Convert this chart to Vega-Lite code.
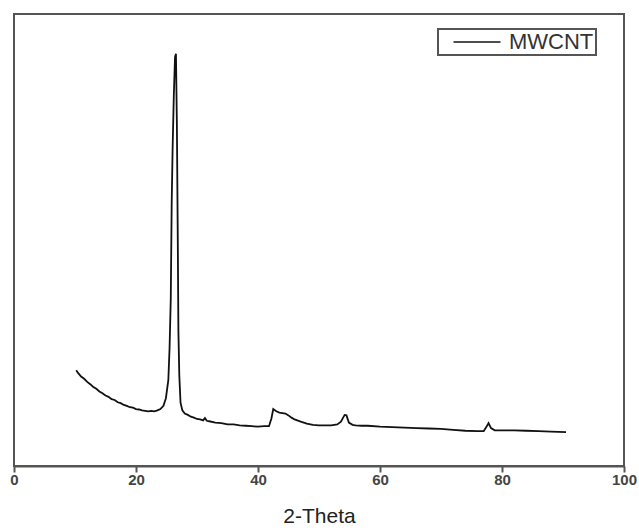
{
  "$schema": "https://vega.github.io/schema/vega-lite/v6.json",
  "width": 610,
  "height": 452,
  "padding": {"left": 9, "top": 14, "right": 16, "bottom": 0},
  "autosize": {"type": "pad"},
  "background": "white",
  "config": {
    "view": {"stroke": "#555", "strokeWidth": 2},
    "font": "Liberation Sans"
  },
  "data": {
    "values": [
      {"theta": 10.2, "intensity": 212}, {"theta": 10.5, "intensity": 206}, {"theta": 11, "intensity": 198},
      {"theta": 11.5, "intensity": 193}, {"theta": 12, "intensity": 186}, {"theta": 12.5, "intensity": 181},
      {"theta": 13, "intensity": 175}, {"theta": 13.5, "intensity": 171}, {"theta": 14, "intensity": 165},
      {"theta": 14.5, "intensity": 161}, {"theta": 15, "intensity": 156}, {"theta": 15.5, "intensity": 153},
      {"theta": 16, "intensity": 148}, {"theta": 16.5, "intensity": 146}, {"theta": 17, "intensity": 141},
      {"theta": 17.5, "intensity": 139}, {"theta": 18, "intensity": 135}, {"theta": 18.5, "intensity": 133},
      {"theta": 19, "intensity": 130}, {"theta": 19.5, "intensity": 129}, {"theta": 20, "intensity": 126},
      {"theta": 20.5, "intensity": 125}, {"theta": 21, "intensity": 123}, {"theta": 21.5, "intensity": 122},
      {"theta": 22, "intensity": 121}, {"theta": 22.5, "intensity": 122}, {"theta": 23, "intensity": 121},
      {"theta": 23.5, "intensity": 123}, {"theta": 24, "intensity": 126}, {"theta": 24.5, "intensity": 133},
      {"theta": 24.9, "intensity": 150}, {"theta": 25.1, "intensity": 170}, {"theta": 25.3, "intensity": 190},
      {"theta": 25.5, "intensity": 260}, {"theta": 25.7, "intensity": 370}, {"theta": 25.85, "intensity": 580},
      {"theta": 26.0, "intensity": 700}, {"theta": 26.2, "intensity": 820}, {"theta": 26.4, "intensity": 905},
      {"theta": 26.55, "intensity": 912}, {"theta": 26.7, "intensity": 760}, {"theta": 26.85, "intensity": 500},
      {"theta": 26.95, "intensity": 300}, {"theta": 27.1, "intensity": 200}, {"theta": 27.3, "intensity": 140},
      {"theta": 27.6, "intensity": 123}, {"theta": 28, "intensity": 116}, {"theta": 28.5, "intensity": 113},
      {"theta": 29, "intensity": 109}, {"theta": 29.5, "intensity": 107}, {"theta": 30, "intensity": 104},
      {"theta": 30.5, "intensity": 103}, {"theta": 31, "intensity": 101}, {"theta": 31.3, "intensity": 106},
      {"theta": 31.6, "intensity": 100}, {"theta": 32, "intensity": 99}, {"theta": 33, "intensity": 96},
      {"theta": 34, "intensity": 95}, {"theta": 35, "intensity": 92}, {"theta": 36, "intensity": 92},
      {"theta": 37, "intensity": 90}, {"theta": 38, "intensity": 89}, {"theta": 39, "intensity": 88},
      {"theta": 40, "intensity": 87}, {"theta": 41, "intensity": 88}, {"theta": 41.8, "intensity": 88},
      {"theta": 42.2, "intensity": 105}, {"theta": 42.5, "intensity": 126}, {"theta": 43, "intensity": 121},
      {"theta": 43.5, "intensity": 118}, {"theta": 44, "intensity": 117}, {"theta": 44.5, "intensity": 116},
      {"theta": 45, "intensity": 112}, {"theta": 45.5, "intensity": 107}, {"theta": 46, "intensity": 103},
      {"theta": 47, "intensity": 98}, {"theta": 48, "intensity": 94}, {"theta": 49, "intensity": 91},
      {"theta": 50, "intensity": 90}, {"theta": 51, "intensity": 90}, {"theta": 52, "intensity": 90},
      {"theta": 53, "intensity": 92}, {"theta": 53.6, "intensity": 98}, {"theta": 54.2, "intensity": 113},
      {"theta": 54.5, "intensity": 112}, {"theta": 54.9, "intensity": 96}, {"theta": 55.5, "intensity": 91},
      {"theta": 56, "intensity": 90}, {"theta": 57, "intensity": 89}, {"theta": 58, "intensity": 89},
      {"theta": 60, "intensity": 87}, {"theta": 62, "intensity": 86}, {"theta": 64, "intensity": 85},
      {"theta": 66, "intensity": 84}, {"theta": 68, "intensity": 83}, {"theta": 70, "intensity": 82},
      {"theta": 72, "intensity": 80}, {"theta": 74, "intensity": 78}, {"theta": 76, "intensity": 77},
      {"theta": 77, "intensity": 77}, {"theta": 77.5, "intensity": 88}, {"theta": 77.8, "intensity": 95},
      {"theta": 78.2, "intensity": 84}, {"theta": 78.8, "intensity": 79}, {"theta": 80, "intensity": 79},
      {"theta": 82, "intensity": 79}, {"theta": 84, "intensity": 78}, {"theta": 86, "intensity": 77},
      {"theta": 88, "intensity": 76}, {"theta": 90.5, "intensity": 75}
    ]
  },
  "transform": [{"calculate": "'MWCNT'", "as": "series"}],
  "mark": {"type": "line", "strokeWidth": 1.8, "interpolate": "linear"},
  "encoding": {
    "x": {
      "field": "theta",
      "type": "quantitative",
      "scale": {"domain": [0, 100], "nice": false},
      "axis": {
        "title": "2-Theta",
        "values": [0, 20, 40, 60, 80, 100],
        "grid": false,
        "domainColor": "#555",
        "domainWidth": 2,
        "tickColor": "#555",
        "tickWidth": 2,
        "tickSize": 6,
        "labelFont": "Liberation Sans",
        "labelFontSize": 15,
        "labelFontWeight": "bold",
        "labelColor": "#444",
        "labelPadding": 0,
        "labelFlush": false,
        "titleFont": "Liberation Sans",
        "titleFontSize": 21,
        "titleFontWeight": "normal",
        "titleColor": "#222",
        "titlePadding": 18
      }
    },
    "y": {
      "field": "intensity",
      "type": "quantitative",
      "scale": {"domain": [0, 1000], "nice": false},
      "axis": null
    },
    "color": {
      "field": "series",
      "type": "nominal",
      "scale": {"range": ["#111"]},
      "legend": {
        "title": null,
        "orient": "none",
        "legendX": 424,
        "legendY": 15,
        "symbolType": "M-2.35,0H2.35",
        "symbolSize": 400,
        "symbolStrokeWidth": 1.5,
        "symbolOffset": 26,
        "labelFontSize": 22,
        "labelFont": "Liberation Sans",
        "labelColor": "#333",
        "labelOffset": 21,
        "strokeColor": "#555",
        "padding": 2,
        "encode": {"legend": {"update": {"strokeWidth": {"value": 2}}}}
      }
    }
  }
}
